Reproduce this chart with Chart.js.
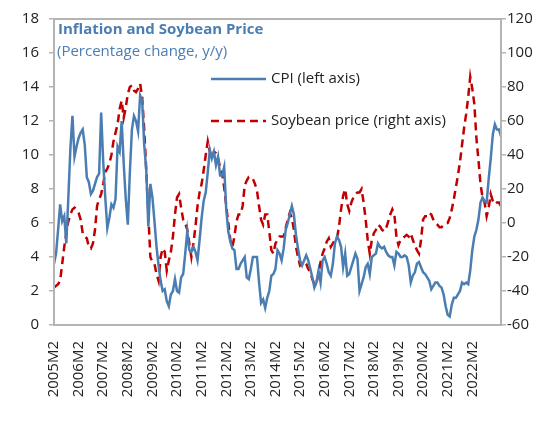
<!DOCTYPE html>
<html>
<head>
<meta charset="utf-8">
<script src="https://cdn.jsdelivr.net/npm/chart.js@4"></script>
<style>
  html, body { margin: 0; padding: 0; background: #fff; }
  #wrap { width: 547px; height: 445px; }
</style>
</head>
<body>
<div id="wrap"><canvas id="chart" width="547" height="445"></canvas></div>
<script>
// monthly series, 2005M2 .. 2023M4
const startYear = 2005;
const startMonth = 2;

const cpi = [
  3.6, 4.2, 5.6, 7.1, 6.1, 6.4, 4.8, 7.5, 10.4, 12.3, 9.9, 10.5,
  11.0, 11.3, 11.5, 10.6, 8.7, 8.4, 7.7, 7.9, 8.3, 8.7, 8.9, 12.5,
  9.6, 7.5, 5.7, 6.3, 7.1, 6.9, 7.4, 10.5, 10.2, 12.0, 9.5, 7.4,
  5.9, 9.0, 11.5, 12.3, 12.0, 11.4, 13.5, 13.2, 10.6, 9.1, 5.8, 8.3,
  7.5, 6.1, 4.6, 3.5, 2.6, 2.0, 2.1, 1.4, 1.1, 1.8, 2.0, 2.7,
  2.0, 1.9, 2.8, 3.0, 4.2, 5.5, 4.4, 4.3, 4.6, 4.3, 3.8, 5.0,
  6.3, 7.3, 7.8, 9.0, 10.3, 9.8, 10.2, 9.4, 9.9, 8.8, 8.8, 9.3,
  6.8, 5.5, 4.9, 4.5, 4.4, 3.3, 3.3, 3.6, 3.8, 4.0, 2.8, 2.7,
  3.3, 4.0, 4.0, 4.0, 2.5, 1.3, 1.5, 1.0, 1.6, 2.0, 2.9, 3.0,
  3.3, 4.4, 4.2, 3.8, 4.5, 5.6, 6.0, 6.5, 7.0, 6.5, 5.3, 4.5,
  3.8, 3.5, 3.8, 4.1, 3.8, 3.3, 2.8, 2.2, 2.5, 3.2, 2.5, 3.8,
  4.0, 3.6, 3.1, 2.9, 3.6, 4.8, 5.2, 5.0, 4.6, 3.4, 4.2, 2.9,
  3.0, 3.4, 3.8, 4.2, 3.9, 2.0, 2.4, 2.8, 3.4, 3.6, 3.0, 4.0,
  4.1, 4.2, 4.8, 4.6, 4.5, 4.6, 4.3, 4.1, 4.0, 4.0, 3.5, 4.3,
  4.2, 4.0, 4.0, 4.1, 4.0, 3.5, 2.5, 2.9, 3.1, 3.6, 3.7, 3.4,
  3.1, 3.0, 2.8, 2.6, 2.1, 2.3, 2.5, 2.5, 2.3, 2.2, 1.8, 1.1,
  0.6, 0.5, 1.2, 1.6, 1.6, 1.8, 2.0, 2.5, 2.4, 2.5, 2.4, 3.2,
  4.4, 5.2, 5.6, 6.2, 7.2, 7.5, 7.3, 7.2, 8.6, 9.8, 11.2, 11.8,
  11.5, 11.5, 11.1
];

const soybean = [
  -38, -37, -36, -34, -24, -14, -6, 1, 5, 8, 9, 8,
  6, 2, -6, -8, -9, -14, -15, -12, -4, 10, 14, 17,
  23, 30, 32, 35, 40, 48, 53, 58, 67, 72, 62, 68,
  76, 80, 81, 78, 77, 79, 82, 74, 55, 31, 5, -20,
  -23, -24, -30, -34, -20, -15, -17, -28, -22, -17, -8, 5,
  15, 17, 9, 2, 0, -4, -12, -20, -12, -2, 10, 18,
  23, 31, 40, 48, 42, 38, 42, 41, 38, 33, 29, 21,
  10, 0, -10, -14, -8, 1, 5, 5, 10, 22, 25, 27,
  27, 26, 23, 19, 10, 2, -1, 5, 5, -5, -16, -18,
  -12, -10, -8, -8, -8, -3, 2, 6, 3, -4, -14, -20,
  -25, -24, -23, -24, -27, -29, -33, -36, -35, -30, -23, -18,
  -15, -11, -9, -14, -12, -10, -9, -2, 8, 16, 20, 11,
  7, 12, 15, 17, 18, 18, 20, 12, 2, -10, -18, -10,
  -6, -4, -1, -2, -4, -5, -3, 1, 5, 8, 5, -8,
  -13, -10, -9, -8, -7, -8, -6, -10, -13, -16, -18, -10,
  2, 4, 4, 6, 5, 2, 0, -1, -2.5, -2.5, -1, -0.5,
  0, 3, 8, 14, 21, 28, 36, 46, 56, 64, 74, 86,
  79, 70, 50, 37, 23, 15, 12, 4, 9, 17, 13, 11,
  12, 12, 10
];

const months = cpi.map((v, i) => {
  const m = startMonth - 1 + i;
  return (startYear + Math.floor(m / 12)) + 'M' + ((m % 12) + 1);
});

// category labels printed under the axis
const xTickLabels = [
  '2005M2', '2006M2', '2007M2', '2008M2', '2009M2', '2010M2',
  '2011M2', '2012M2', '2013M2', '2014M2', '2015M2', '2016M2',
  '2017M2', '2018M2', '2019M2', '2020M2', '2021M2', '2022M2'
];

const leftTicks = { min: 0, max: 18, step: 2 };
const rightTicks = { min: -60, max: 120, step: 20 };

const titleText = 'Inflation and Soybean Price';
const subtitleText = '(Percentage change, y/y)';
const cpiLabel = 'CPI (left axis)';
const soyLabel = 'Soybean price (right axis)';

const BLUE = '#4a7eb3';
const RED = '#c00000';
const AXIS = '#b4b4b4';
const FONT = '"Open Sans", "Noto Sans", sans-serif';

// title, legend and plot frame drawn inside the plot area
const overlay = {
  id: 'overlay',
  afterDraw(chart) {
    const { ctx, chartArea } = chart;
    ctx.save();
    ctx.strokeStyle = AXIS;
    ctx.lineWidth = 2;
    ctx.strokeRect(chartArea.left, chartArea.top, chartArea.right - chartArea.left, chartArea.bottom - chartArea.top);

    ctx.textBaseline = 'middle';
    ctx.fillStyle = BLUE;
    ctx.font = 'bold 15px ' + FONT;
    ctx.fillText(titleText, 58, 30);
    ctx.font = '15px ' + FONT;
    ctx.fillText(subtitleText, 57, 52);

    ctx.lineWidth = 2.5;
    ctx.strokeStyle = BLUE;
    ctx.beginPath();
    ctx.moveTo(211, 79);
    ctx.lineTo(266, 79);
    ctx.stroke();
    ctx.strokeStyle = RED;
    ctx.setLineDash([8, 5]);
    ctx.beginPath();
    ctx.moveTo(211, 121);
    ctx.lineTo(266, 121);
    ctx.stroke();
    ctx.setLineDash([]);

    ctx.fillStyle = '#222';
    ctx.font = '15px ' + FONT;
    ctx.fillText(cpiLabel, 271, 79);
    ctx.fillText(soyLabel, 271, 121);
    ctx.restore();
  }
};

const ctx = document.getElementById('chart').getContext('2d');
new Chart(ctx, {
  type: 'line',
  data: {
    labels: months,
    datasets: [
      {
        label: cpiLabel,
        data: cpi,
        yAxisID: 'y',
        borderColor: BLUE,
        borderWidth: 2.5,
        pointRadius: 0,
        tension: 0,
      },
      {
        label: soyLabel,
        data: soybean,
        yAxisID: 'y1',
        borderColor: RED,
        borderWidth: 2.5,
        borderDash: [8, 5],
        pointRadius: 0,
        tension: 0,
      },
    ],
  },
  options: {
    responsive: false,
    animation: false,
    layout: { padding: { top: 17, left: 0, right: 0, bottom: 0 } },
    scales: {
      x: {
        type: 'category',
        offset: false,
        grid: { display: false },
        border: { display: true, color: AXIS, width: 2 },
        ticks: {
          autoSkip: false,
          maxRotation: 90,
          minRotation: 90,
          padding: 8,
          color: '#222',
          font: { family: FONT, size: 15 },
          callback: function (value) {
            const lab = this.getLabelForValue(value);
            return xTickLabels.includes(lab) ? lab : '';
          },
        },
        afterFit: (scale) => { scale.height = 120; },
      },
      y: {
        position: 'left',
        min: leftTicks.min,
        max: leftTicks.max,
        grid: { display: true, drawOnChartArea: false, drawTicks: true, tickLength: 5, color: AXIS, lineWidth: 1.5 },
        border: { display: true, color: AXIS, width: 2 },
        ticks: {
          stepSize: leftTicks.step,
          padding: 10,
          color: '#222',
          font: { family: FONT, size: 15 },
        },
        afterFit: (scale) => { scale.width = 54; },
      },
      y1: {
        position: 'right',
        min: rightTicks.min,
        max: rightTicks.max,
        grid: { display: true, drawOnChartArea: false, drawTicks: true, tickLength: 5, color: AXIS, lineWidth: 1.5 },
        border: { display: true, color: AXIS, width: 2 },
        ticks: {
          stepSize: rightTicks.step,
          padding: 1,
          color: '#222',
          font: { family: FONT, size: 15 },
        },
        afterFit: (scale) => { scale.width = 46; },
      },
    },
    plugins: {
      legend: { display: false },
      tooltip: { enabled: false },
    },
  },
  plugins: [overlay],
});
</script>
</body>
</html>
